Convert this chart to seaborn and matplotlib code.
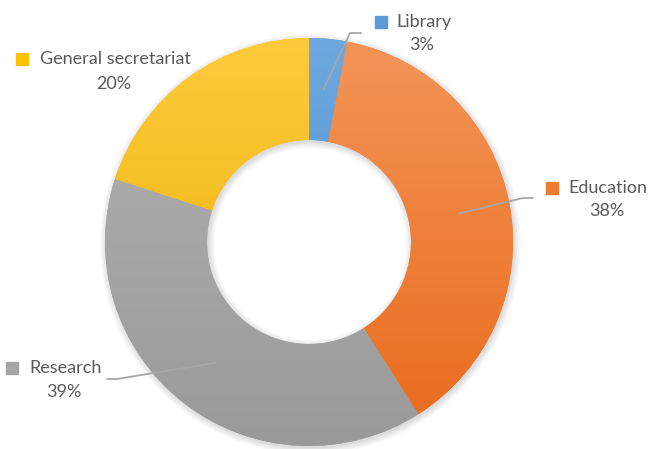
import numpy as np
import matplotlib
matplotlib.use("Agg")
import matplotlib.pyplot as plt
import seaborn as sns
from matplotlib.colors import LinearSegmentedColormap
from matplotlib.patches import Wedge

# data
categories = ["Library", "Education", "Research", "General secretariat"]
shares = [3, 38, 39, 20]
top_colors = ["#6EA8DE", "#F39558", "#B2B2B2", "#FFCB3C"]
bottom_colors = ["#4B8BCB", "#E96A1B", "#9A9A9A", "#E6AC00"]
base_colors = ["#5B9BD5", "#ED7D31", "#A5A5A5", "#FFC000"]

sns.set_theme(style="white")
plt.rcParams["font.family"] = ["Lato", "DejaVu Sans"]

W, H = 648, 449
CX, CY, R = 309, 242, 204   # pixel centre / radius of the ring


def px(x, y):
    # pixel (top-left origin) -> data coords
    return (x - CX) / R, (CY - y) / R


fig = plt.figure(figsize=(W / 100, H / 100), dpi=100)
ax = fig.add_axes([0, 0, 1, 1])
ax.set_axis_off()

# soft shadow behind the ring
for k in range(6):
    sh = Wedge((0.006, -0.01), 1.0 + 0.006 * k, 0, 360, width=0.5 + 0.012 * k,
               facecolor="black", alpha=0.025, linewidth=0)
    ax.add_patch(sh)

wedges, _ = ax.pie(shares, startangle=90, counterclock=False, radius=1,
                   colors=base_colors, wedgeprops=dict(width=0.5, linewidth=0))

grad = np.linspace(0, 1, 256).reshape(-1, 1)
for w, c0, c1 in zip(wedges, top_colors, bottom_colors):
    cmap = LinearSegmentedColormap.from_list("g", [c0, c1])
    im = ax.imshow(grad, extent=(-1, 1, -1, 1), origin="upper", cmap=cmap,
                   aspect="auto", interpolation="bilinear", zorder=w.get_zorder() + 0.1)
    im.set_clip_path(w)

ax.set_xlim(-CX / R, (W - CX) / R)
ax.set_ylim(-(H - CY) / R, CY / R)

text_col = "#595959"
line_col = "#A6A6A6"
fs = 13

# label layout (pixels): marker centre, name start, name y, percent centre x, percent y
label_pos = {
    "Library": (381, 396, 22, 422, 45),
    "Education": (552, 568, 188, 607, 211),
    "Research": (12, 29, 368, 64, 392),
    "General secretariat": (22, 40, 59, 114, 84),
}
# leader lines: bend point and end point in pixels
leaders = {
    "Library": [(350, 33), (361, 33)],
    "Education": [(523, 198), (533, 198)],
    "Research": [(117, 379), (107, 379)],
}

cum = 0
for name, val, col in zip(categories, shares, base_colors):
    mid = np.deg2rad(90 - 360 * (cum + val / 2) / sum(shares))
    cum += val
    mx, nx, ny, pcx, pcy = label_pos[name]
    ax.plot(*px(mx, ny), marker="s", markersize=8, color=col, linestyle="none")
    ax.text(*px(nx, ny), name, ha="left", va="center", fontsize=fs, color=text_col)
    ax.text(*px(pcx, pcy), f"{val}%", ha="center", va="center", fontsize=fs, color=text_col)
    if name in leaders:
        pts = [(0.75 * np.cos(mid), 0.75 * np.sin(mid))] + [px(*p) for p in leaders[name]]
        xs, ys = zip(*pts)
        ax.plot(xs, ys, color=line_col, linewidth=1.3, zorder=10)

fig.savefig("out.png", dpi=100, facecolor="white")
